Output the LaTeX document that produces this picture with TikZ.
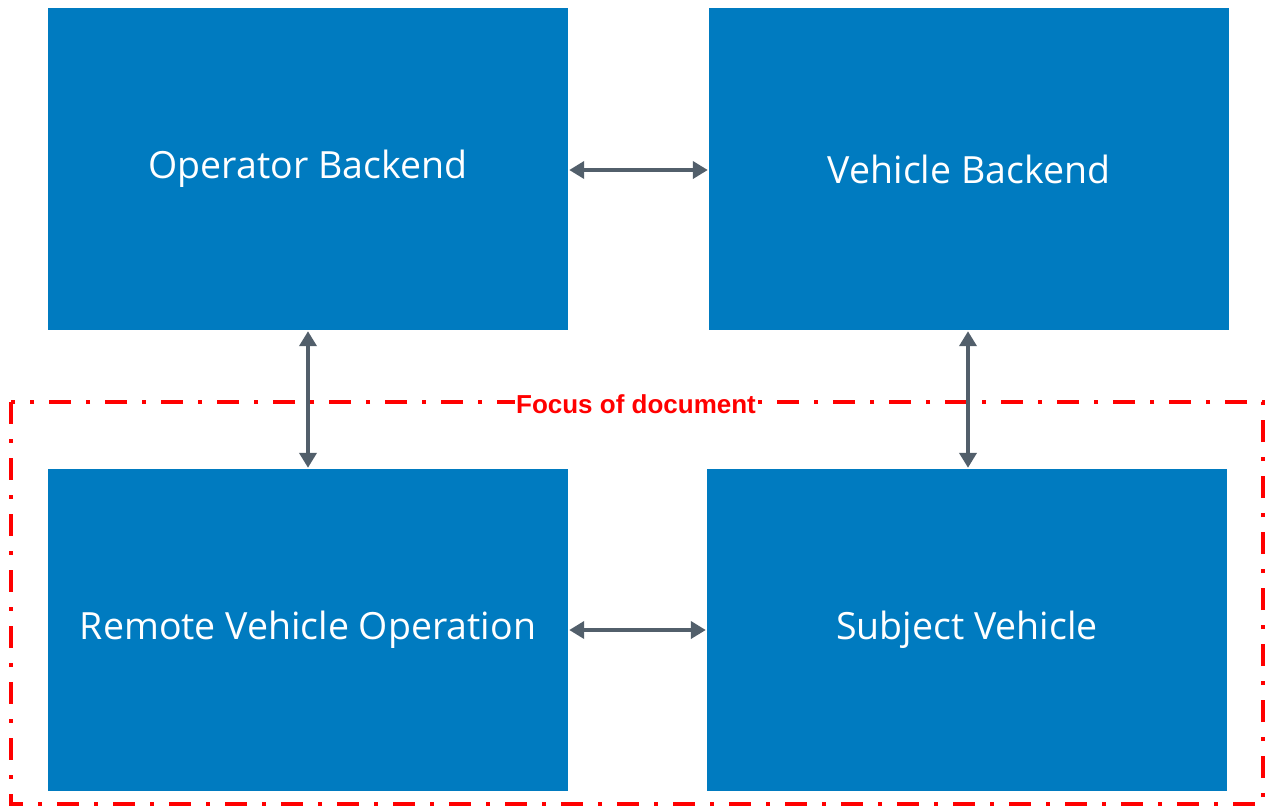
\documentclass[tikz,border=0pt]{standalone}
\usepackage{fontspec}
\setmainfont{Open Sans}
\newfontfamily\labelfont{Liberation Sans}
\usetikzlibrary{arrows.meta}
\definecolor{boschblue}{HTML}{007BC0}
\definecolor{arrowgray}{HTML}{525F6B}
\definecolor{focusred}{HTML}{FF0000}
\begin{document}
\begin{tikzpicture}[x=1pt,y=-1pt,
  block/.style={fill=boschblue,draw=none,minimum width=520pt,minimum height=322pt,inner sep=0pt,
    text=white,font=\fontsize{37.5}{44}\selectfont},
  link/.style={draw=arrowgray,line width=4.5pt,{Triangle[width=17pt,length=15pt]}-{Triangle[width=17pt,length=15pt]},shorten >=1pt,shorten <=1pt},
  focus/.style={draw=focusred,line width=3.5pt,dash pattern=on 22pt off 15pt on 4pt off 15pt}]
\useasboundingbox (0,0) rectangle (1266,807);
\draw[focus] (11,402) rectangle (1263,804);
\node[fill=white,inner sep=1pt,text=focusred,font=\labelfont\bfseries\fontsize{26}{30}\selectfont] (lbl) at (636,404) {Focus of document};
\node[block] (ob) at (308,169) {Operator Backend};
\node[block] (vb) at (969,169) {Vehicle Backend};
\node[block] (rvo) at (308,630) {Remote Vehicle Operation};
\node[block] (sv) at (967,630) {Subject Vehicle};
\draw[link] (ob.east |- 0,170) -- (vb.west |- 0,170);
\draw[link] (rvo.east |- 0,630) -- (sv.west |- 0,630);
\draw[link] (ob.south) -- (rvo.north);
\draw[link] (vb.south -| 968,0) -- (sv.north -| 968,0);
\end{tikzpicture}
\end{document}
